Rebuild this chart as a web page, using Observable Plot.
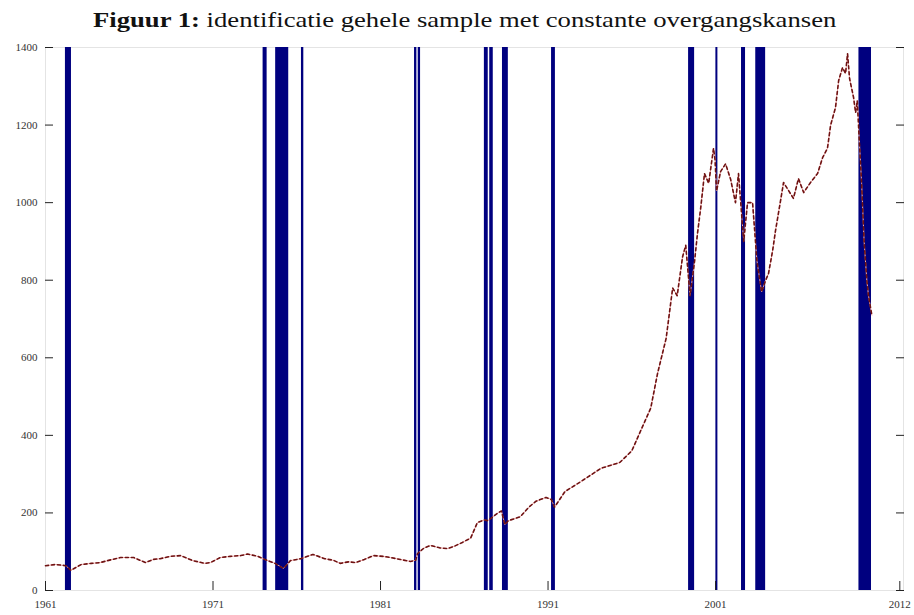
<!DOCTYPE html>
<html>
<head>
<meta charset="utf-8">
<script src="https://cdn.jsdelivr.net/npm/d3@7"></script>
<script src="https://cdn.jsdelivr.net/npm/@observablehq/plot@0.6"></script>
<style>
  html, body { margin: 0; padding: 0; background: #fff; }
  #wrap { position: relative; width: 914px; height: 615px; overflow: hidden; }
  #title { position: absolute; left: 8px; width: 914px; top: 10px; text-align: center;
           font-family: "Liberation Serif", "Times New Roman", serif; font-size: 21px; line-height: 21px; color: #111; }
  #title span.inner { display: inline-block; transform: scaleX(1.27); transform-origin: center; }
  #chart { position: absolute; left: 0; top: 0; }
</style>
</head>
<body>
<div id="wrap">
  <div id="chart"></div>
  <div id="title"><span class="inner"><b>Figuur 1:</b> identificatie gehele sample met constante overgangskansen</span></div>
</div>
<script>
// ---- data ----
const years = [1961.0, 1961.60, 1962.21, 1962.52, 1963.13, 1963.75, 1964.26, 1964.98, 1965.49, 1966.26, 1966.97, 1967.43, 1967.84, 1968.46, 1969.07, 1969.79, 1970.51, 1970.85, 1971.43, 1972.04, 1972.66, 1973.06, 1973.68, 1974.09, 1974.70, 1975.21, 1975.62, 1976.24, 1976.96, 1977.67, 1978.18, 1978.59, 1979.11, 1979.52, 1980.03, 1980.58, 1981.15, 1981.59, 1982.18, 1982.79, 1983.10, 1983.21, 1983.61, 1983.99, 1984.53, 1985.00, 1985.45, 1985.89, 1986.38, 1986.78, 1987.19, 1987.40, 1987.71, 1988.01, 1988.22, 1988.42, 1988.63, 1989.34, 1989.86, 1990.27, 1990.88, 1991.19, 1991.39, 1992.01, 1992.93, 1994.16, 1995.28, 1996.00, 1996.51, 1997.13, 1997.54, 1998.05, 1998.44, 1998.71, 1999.03, 1999.22, 1999.48, 1999.75, 1999.92, 2000.11, 2000.34, 2000.59, 2000.88, 2000.97, 2001.06, 2001.30, 2001.60, 2001.90, 2002.19, 2002.37, 2002.68, 2002.91, 2003.21, 2003.47, 2003.75, 2003.99, 2004.16, 2004.41, 2004.58, 2004.88, 2005.06, 2005.36, 2005.65, 2005.95, 2006.26, 2006.67, 2007.09, 2007.39, 2007.68, 2007.87, 2008.16, 2008.35, 2008.58, 2008.76, 2008.88, 2009.00, 2009.24, 2009.36, 2009.46, 2009.57, 2009.72, 2009.87, 2010.03, 2010.13, 2010.33];
const values = [64, 67, 64, 52, 67, 70, 72, 80, 85, 85, 72, 80, 82, 88, 90, 77, 70, 72, 85, 88, 90, 94, 88, 80, 70, 57, 77, 82, 93, 82, 78, 70, 74, 72, 80, 90, 88, 85, 80, 75, 78, 95, 110, 116, 110, 108, 115, 124, 135, 175, 182, 180, 190, 200, 205, 170, 180, 190, 215, 230, 240, 235, 215, 255, 280, 315, 330, 360, 410, 470, 560, 650, 780, 760, 860, 890, 760, 850, 920, 985, 1075, 1050, 1140, 1110, 1030, 1080, 1100, 1060, 1000, 1075, 900, 1000, 1000, 850, 770, 800, 817, 877, 928, 1005, 1052, 1031, 1011, 1062, 1026, 1052, 1075, 1116, 1140, 1200, 1245, 1315, 1348, 1333, 1384, 1320, 1271, 1232, 1263, 1170, 1050, 900, 800, 760, 710];

const bandStart = [1962.19, 1973.99, 1974.74, 1976.28, 1983.03, 1983.25, 1987.20, 1987.52, 1988.28, 1991.21, 1999.39, 2001.02, 2002.55, 2003.40, 2009.56];
const bandEnd   = [1962.55, 1974.23, 1975.52, 1976.42, 1983.17, 1983.39, 1987.43, 1987.73, 1988.63, 1991.44, 1999.75, 2001.14, 2002.79, 2003.99, 2010.31];

const xTicks = [1961, 1971, 1981, 1991, 2001, 2012];
const xTickLabels = ["1961", "1971", "1981", "1991", "2001", "2012"];
const yTicks = [0, 200, 400, 600, 800, 1000, 1200, 1400];
const yTickLabels = ["0", "200", "400", "600", "800", "1000", "1200", "1400"];

// ---- build tables ----
const series = years.map((y, i) => ({year: y, value: values[i]}));
const bands = bandStart.map((s, i) => ({start: s, end: bandEnd[i]}));

const chart = Plot.plot({
  width: 914,
  height: 615,
  marginTop: 47,
  marginBottom: 25,
  marginLeft: 45,
  marginRight: 11,
  style: {fontFamily: "'Liberation Serif', serif", fontSize: "11px", background: "transparent", color: "#333"},
  x: {domain: [1961, 2012.22], label: null},
  y: {domain: [0, 1400], label: null},
  marks: [
    Plot.frame({stroke: "#e4e4e4"}),
    Plot.rect(bands, {x1: "start", x2: "end", fill: "#00007f"}),
    Plot.line(series, {x: "year", y: "value", stroke: "#f3aaaa", strokeWidth: 1}),
    Plot.line(series, {x: "year", y: "value", stroke: "#6e1212", strokeWidth: 1.6, strokeDasharray: "3,3"}),
    Plot.axisY({ticks: yTicks, tickSize: 0, tickPadding: 8, label: null, tickFormat: d => yTickLabels[yTicks.indexOf(d)], fill: "#333"}),
    Plot.axisY({ticks: yTicks, tickSize: -8, text: null, label: null, stroke: "#222"}),
    Plot.axisY({ticks: yTicks, anchor: "right", tickSize: -8, text: null, label: null, stroke: "#222"}),
    Plot.axisX({ticks: xTicks, tickSize: 0, tickPadding: 10, label: null, tickFormat: d => xTickLabels[xTicks.indexOf(d)], fill: "#333"}),
    Plot.axisX({ticks: xTicks, tickSize: -9, text: null, label: null, stroke: "#222"})
  ]
});
document.getElementById("chart").appendChild(chart);
</script>
</body>
</html>
